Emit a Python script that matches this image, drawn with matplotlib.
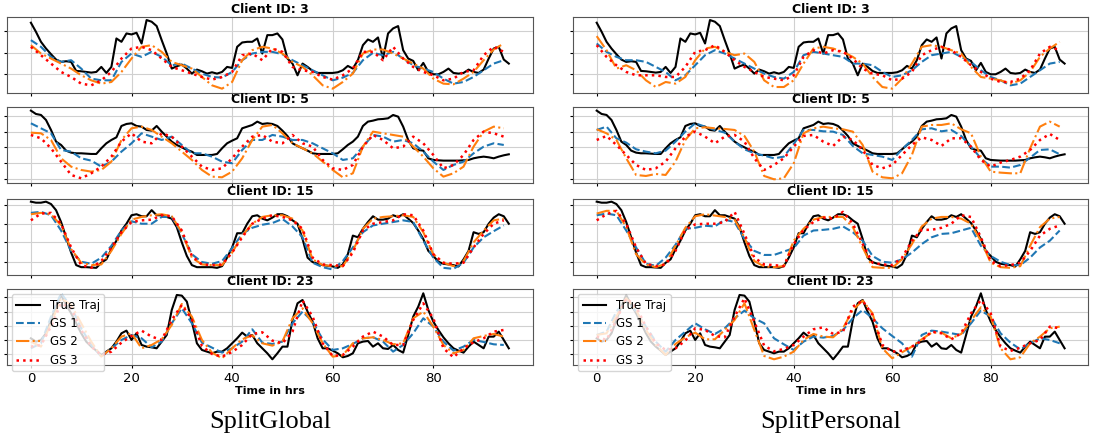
import numpy as np
import matplotlib
matplotlib.use("Agg")
import matplotlib.pyplot as plt

# ---- data (y in arbitrary load units) ----
clients = [3, 5, 15, 23]
panel_names = ["SplitGlobal", "SplitPersonal"]
series_labels = ["True Traj", "GS 1", "GS 2", "GS 3"]
hours = np.arange(96)            # true trajectory, hourly
pred_hours = np.arange(0, 96, 2)  # forecasts, read every 2 hrs
xtick_vals = [0, 20, 40, 60, 80]

true_c3 = [21.2, 18.5, 15.5, 13.5, 11.8, 10.2, 9.5, 9.7, 9.5, 6.8,
           6.7, 6.5, 6.3, 6.5, 8.0, 6.2, 8.0, 16.5, 15.5, 18.0,
           17.7, 18.2, 15.0, 22.0, 21.5, 20.2, 16.0, 12.0, 7.5, 8.2,
           8.7, 7.5, 6.0, 7.2, 6.7, 6.0, 6.4, 6.0, 6.5, 8.0,
           7.7, 14.0, 15.3, 15.5, 15.5, 16.5, 12.0, 17.5, 17.5, 18.0,
           16.2, 10.5, 9.0, 5.5, 9.0, 8.0, 6.8, 6.2, 6.2, 6.2,
           6.2, 6.4, 7.0, 8.3, 7.5, 10.0, 14.5, 16.2, 15.5, 16.8,
           10.5, 18.0, 19.5, 20.2, 13.0, 10.5, 9.8, 7.0, 9.2, 6.5,
           5.8, 5.8, 6.5, 7.5, 6.2, 6.0, 6.2, 7.2, 6.5, 6.2,
           7.2, 10.5, 13.5, 14.0, 10.2, 9.0]
true_c5 = [21.8, 20.8, 20.5, 19.0, 16.0, 12.5, 11.5, 9.8, 9.2, 9.0,
           9.0, 8.9, 8.8, 8.8, 10.5, 12.0, 13.0, 13.8, 17.2, 17.8,
           18.0, 17.2, 17.0, 16.0, 15.8, 17.2, 15.5, 14.0, 12.5, 11.5,
           10.8, 10.0, 9.5, 8.5, 8.5, 8.5, 8.5, 8.8, 10.5, 12.0,
           12.8, 13.5, 16.5, 17.0, 17.5, 18.5, 17.8, 18.0, 17.8, 17.2,
           15.8, 14.2, 12.0, 11.2, 10.5, 9.8, 9.0, 8.8, 8.8, 8.8,
           8.8, 9.0, 10.2, 11.5, 12.5, 14.0, 17.2, 18.5, 18.8, 19.2,
           19.3, 19.5, 20.5, 20.0, 17.0, 13.0, 10.5, 10.0, 9.8, 7.5,
           7.0, 6.9, 6.8, 6.8, 6.8, 6.8, 6.9, 7.0, 7.5, 7.8,
           8.0, 7.8, 7.5, 8.0, 8.4, 8.7]
true_c15 = [22.0, 21.7, 21.7, 22.0, 21.3, 19.5, 16.0, 11.5, 7.0, 3.3,
            2.7, 2.7, 2.6, 2.5, 4.0, 5.0, 8.0, 10.5, 13.5, 15.5,
            18.0, 18.3, 17.7, 17.7, 19.5, 18.0, 18.0, 17.5, 17.0, 14.5,
            10.0, 6.0, 3.3, 2.7, 2.7, 2.7, 2.7, 2.5, 3.0, 5.5,
            8.5, 12.7, 12.7, 15.5, 17.7, 18.0, 17.0, 16.5, 17.3, 18.3,
            18.3, 17.7, 16.5, 15.5, 11.0, 5.5, 4.2, 3.7, 3.3, 3.1,
            2.9, 2.5, 3.5, 6.5, 12.0, 11.5, 14.0, 16.0, 17.7, 16.7,
            16.7, 17.0, 18.0, 17.5, 18.3, 17.0, 15.7, 13.5, 11.0, 7.5,
            6.0, 4.3, 3.7, 3.5, 3.3, 2.9, 5.0, 7.5, 13.0, 12.5,
            13.0, 15.5, 17.3, 18.3, 17.7, 15.5]
true_c23 = [8.5, 7.5, 8.0, 10.0, 14.0, 18.0, 21.5, 18.5, 16.0, 13.0,
            10.0, 7.5, 6.0, 4.8, 3.5, 4.5, 5.5, 7.5, 10.0, 10.8,
            8.0, 10.0, 6.5, 6.0, 5.8, 5.5, 7.5, 9.5, 17.0, 21.5,
            21.3, 19.5, 13.5, 7.0, 5.0, 4.5, 4.0, 4.5, 4.5, 5.5,
            7.0, 8.5, 10.2, 9.0, 9.5, 7.0, 5.5, 4.0, 2.2, 4.0,
            6.0, 6.0, 14.0, 19.0, 20.0, 16.5, 13.5, 8.5, 5.5, 5.5,
            4.8, 4.0, 2.8, 3.2, 4.0, 7.0, 7.5, 7.7, 6.0, 7.0,
            5.5, 5.3, 6.5, 5.0, 4.2, 9.5, 15.0, 18.0, 22.0, 17.0,
            13.5, 11.0, 8.8, 7.0, 5.5, 4.8, 4.2, 6.0, 7.5, 6.5,
            5.5, 9.0, 9.0, 10.5, 8.0, 5.5]

# SplitGlobal forecasts
global_c3_gs1 = [16.0, 14.0, 11.0, 9.5, 10.0, 7.5, 4.5, 4.0, 4.0, 9.5, 12.0, 11.0, 12.5, 11.0, 8.5, 9.0,
                 7.5, 6.0, 5.0, 4.8, 6.5, 10.0, 12.0, 12.5, 12.5, 11.8, 10.0, 8.5, 7.0, 5.5, 4.0, 4.8,
                 6.2, 10.0, 12.2, 11.5, 12.5, 10.5, 8.5, 7.5, 6.5, 4.5, 3.0, 3.5, 5.0, 7.0, 9.0, 10.0]
global_c3_gs2 = [14.5, 12.0, 10.5, 9.0, 7.5, 5.5, 4.0, 3.0, 3.5, 6.5, 10.5, 14.0, 14.5, 12.5, 9.5, 8.5,
                 7.5, 5.0, 2.5, 1.5, 3.5, 10.0, 13.0, 14.0, 13.5, 12.0, 9.5, 8.0, 5.5, 2.5, 1.5, 3.5,
                 6.0, 12.0, 13.2, 13.2, 12.0, 10.5, 9.0, 7.5, 4.5, 3.0, 2.8, 4.5, 6.5, 10.0, 13.2, 15.0]
global_c3_gs3 = [14.0, 11.5, 9.0, 6.5, 5.0, 3.0, 2.5, 4.0, 6.5, 10.5, 13.5, 14.0, 13.0, 10.5, 8.0, 7.0,
                 6.0, 5.0, 4.2, 5.0, 6.5, 11.5, 12.0, 10.0, 13.5, 12.5, 8.0, 7.0, 6.5, 5.0, 4.2, 5.5,
                 7.5, 12.5, 12.5, 10.0, 14.0, 10.5, 8.0, 6.5, 5.5, 4.0, 4.5, 6.5, 7.0, 11.5, 14.0, 12.5]
global_c5_gs1 = [18.0, 16.5, 15.0, 10.0, 9.5, 7.5, 6.8, 5.0, 6.5, 9.5, 12.0, 15.0, 14.0, 13.0, 14.0, 11.5,
                 9.0, 9.0, 8.0, 6.5, 6.0, 10.0, 13.0, 13.0, 14.5, 14.0, 13.0, 13.0, 12.0, 10.5, 9.0, 7.0,
                 7.5, 11.0, 14.5, 14.0, 12.5, 13.0, 12.0, 9.5, 6.5, 4.0, 5.5, 6.5, 9.0, 11.0, 12.0, 11.5]
global_c5_gs2 = [15.2, 15.0, 13.0, 7.5, 5.0, 4.0, 3.5, 4.0, 6.5, 13.0, 16.5, 17.0, 16.0, 14.0, 12.0, 9.5,
                 7.0, 4.0, 2.0, 1.8, 3.5, 7.5, 13.0, 17.0, 17.5, 15.0, 12.0, 10.5, 9.0, 6.5, 4.0, 1.8,
                 3.0, 11.0, 15.5, 15.0, 14.5, 14.0, 11.0, 8.0, 4.5, 2.0, 3.0, 5.0, 11.0, 15.5, 17.0, 16.5]
global_c5_gs3 = [14.5, 13.5, 10.5, 6.5, 2.5, 1.5, 3.0, 5.0, 8.0, 12.5, 15.0, 12.5, 12.0, 15.0, 14.0, 11.0,
                 8.0, 5.0, 4.0, 4.5, 7.5, 11.0, 14.0, 14.5, 12.5, 12.0, 14.5, 12.0, 11.0, 7.0, 4.5, 4.0,
                 5.5, 11.0, 14.5, 13.0, 10.5, 11.0, 14.0, 12.0, 8.5, 4.5, 5.5, 8.5, 13.0, 15.5, 15.0, 14.0]
global_c15_gs1 = [18.7, 19.0, 18.0, 13.5, 7.5, 4.3, 3.7, 5.5, 9.0, 13.5, 16.2, 15.5, 15.5, 17.5, 17.5, 12.5,
                  6.5, 4.2, 3.7, 4.5, 8.3, 12.5, 14.3, 15.2, 15.7, 16.9, 14.7, 11.5, 4.0, 2.7, 2.0, 4.5,
                  8.5, 13.0, 15.0, 15.5, 16.0, 16.5, 16.0, 10.5, 5.5, 2.5, 2.2, 4.0, 8.5, 11.5, 13.3, 15.0]
global_c15_gs2 = [18.3, 18.7, 18.3, 15.0, 8.0, 4.0, 3.3, 3.5, 7.5, 12.5, 16.7, 17.5, 18.0, 18.3, 17.7, 13.0,
                  5.5, 3.5, 3.3, 3.3, 7.0, 12.0, 15.5, 17.5, 18.0, 18.0, 17.0, 13.5, 5.0, 3.3, 3.0, 3.0,
                  7.5, 14.0, 17.0, 17.5, 17.7, 18.0, 17.5, 13.0, 6.5, 4.0, 3.0, 4.5, 10.0, 13.5, 16.5, 17.0]
global_c15_gs3 = [16.5, 18.5, 18.7, 15.5, 8.5, 3.3, 2.5, 4.5, 8.5, 13.0, 16.0, 16.5, 16.7, 18.0, 17.7, 13.5,
                  6.0, 3.5, 3.3, 3.5, 7.0, 11.5, 15.5, 17.0, 18.0, 17.5, 16.5, 14.0, 5.5, 3.5, 3.3, 3.0,
                  7.0, 13.5, 15.5, 16.0, 16.5, 18.3, 18.0, 13.5, 6.5, 4.0, 3.7, 4.0, 8.5, 12.5, 15.5, 16.5]
global_c23_gs1 = [5.5, 7.0, 15.0, 22.0, 18.0, 11.5, 6.5, 3.0, 5.5, 8.0, 9.5, 8.5, 5.8, 7.5, 13.0, 17.5,
                  13.0, 7.2, 5.7, 4.2, 5.5, 7.5, 11.2, 7.2, 6.8, 7.5, 13.0, 16.5, 13.5, 8.2, 5.0, 5.5,
                  6.8, 8.5, 8.8, 7.5, 4.5, 6.5, 10.0, 14.5, 12.0, 7.5, 4.8, 6.0, 8.0, 7.4, 6.7, 6.5]
global_c23_gs2 = [7.5, 6.0, 13.0, 20.5, 18.5, 13.0, 7.5, 3.0, 5.5, 9.0, 10.0, 5.5, 6.5, 8.2, 12.5, 18.8,
                  15.0, 8.0, 4.2, 2.5, 5.5, 8.2, 9.4, 7.0, 6.3, 7.5, 14.5, 17.5, 13.0, 7.0, 3.0, 3.4,
                  7.0, 8.5, 8.8, 8.0, 6.7, 7.0, 14.5, 16.5, 12.0, 6.5, 4.0, 5.0, 8.5, 9.2, 9.8, 9.0]
global_c23_gs3 = [6.0, 6.5, 12.0, 19.0, 17.5, 11.0, 6.0, 3.5, 4.5, 7.2, 9.2, 10.8, 9.0, 8.0, 14.0, 18.5,
                  14.2, 6.2, 3.8, 3.0, 4.4, 6.5, 9.8, 10.3, 7.8, 7.0, 10.5, 19.8, 15.0, 7.0, 3.2, 3.5,
                  6.0, 9.0, 10.5, 9.0, 6.5, 6.5, 14.0, 19.0, 14.5, 5.5, 2.8, 5.5, 7.3, 8.5, 10.5, 11.0]

# SplitPersonal forecasts
personal_c3_gs1 = [15.0, 12.5, 11.0, 10.0, 10.0, 9.5, 8.0, 6.5, 4.0, 5.5, 8.5, 11.5, 13.0, 12.0, 10.5, 9.0,
                   7.5, 6.0, 5.0, 4.5, 6.5, 11.5, 12.5, 12.0, 11.5, 11.0, 9.0, 9.0, 8.5, 6.5, 5.0, 5.5,
                   7.0, 9.5, 11.5, 12.0, 12.5, 11.0, 9.5, 7.0, 5.0, 4.0, 2.5, 3.0, 5.0, 7.0, 9.0, 9.5]
personal_c3_gs2 = [17.2, 13.0, 7.5, 8.5, 7.0, 4.0, 2.0, 3.5, 3.0, 5.0, 10.0, 13.5, 14.0, 12.5, 11.5, 12.0,
                   9.5, 4.0, 2.0, 2.0, 4.0, 9.0, 13.5, 14.0, 13.5, 12.5, 11.0, 9.0, 5.0, 2.0, 1.5, 4.5,
                   9.0, 14.0, 14.5, 14.0, 13.0, 12.0, 8.0, 5.0, 4.5, 4.0, 3.0, 4.0, 6.5, 11.0, 13.5, 15.5]
personal_c3_gs3 = [14.5, 11.0, 8.5, 6.5, 5.5, 5.5, 5.5, 5.0, 5.0, 8.0, 12.5, 13.0, 14.5, 12.5, 10.0, 8.0,
                   6.5, 5.0, 4.5, 4.0, 5.5, 11.0, 13.0, 12.0, 13.0, 12.5, 10.5, 7.5, 6.0, 5.5, 4.0, 4.5,
                   6.5, 11.5, 13.0, 14.0, 13.0, 11.0, 8.5, 6.5, 4.5, 3.5, 3.5, 4.5, 7.0, 12.0, 14.0, 13.0]
personal_c5_gs1 = [16.0, 17.0, 13.5, 12.2, 10.2, 9.5, 9.0, 9.8, 12.5, 15.5, 18.0, 17.0, 16.0, 15.2, 12.5, 10.2,
                   9.0, 8.3, 7.5, 8.0, 11.8, 16.0, 16.0, 15.6, 15.5, 14.5, 11.2, 9.0, 8.5, 8.0, 7.0, 10.2,
                   13.0, 16.2, 16.5, 15.6, 16.0, 14.2, 11.0, 7.5, 5.0, 5.0, 4.7, 5.5, 7.7, 10.0, 10.2, 8.7]
personal_c5_gs2 = [16.2, 15.0, 13.0, 7.5, 2.5, 2.2, 2.8, 2.5, 6.5, 13.0, 16.5, 16.8, 16.5, 16.3, 16.0, 14.2,
                   9.5, 2.2, 1.2, 1.5, 6.0, 15.0, 16.5, 17.0, 16.5, 16.2, 15.5, 11.5, 3.5, 1.8, 1.5, 3.0,
                   8.5, 17.0, 17.5, 17.5, 18.0, 16.2, 15.0, 8.0, 3.5, 3.2, 3.0, 3.0, 10.5, 17.0, 18.5, 17.0]
personal_c5_gs3 = [13.0, 14.2, 11.5, 8.5, 5.5, 4.0, 4.5, 6.5, 10.5, 14.0, 15.5, 14.0, 12.0, 14.0, 14.5, 12.5,
                   7.5, 4.0, 5.5, 7.5, 11.0, 14.2, 14.5, 12.5, 11.2, 14.0, 13.0, 10.0, 5.5, 4.5, 5.5, 8.5,
                   11.5, 13.8, 13.0, 11.2, 13.5, 13.5, 11.0, 7.0, 5.0, 6.2, 7.0, 8.0, 10.0, 13.0, 14.8, 13.0]
personal_c15_gs1 = [18.0, 18.5, 18.0, 13.5, 8.5, 3.7, 3.1, 5.5, 9.3, 14.0, 14.3, 14.9, 14.7, 16.7, 16.0, 11.0,
                    7.5, 6.3, 6.3, 7.3, 8.3, 12.0, 13.5, 13.7, 14.0, 14.7, 13.0, 10.5, 6.0, 4.3, 4.0, 5.0,
                    7.0, 9.5, 11.5, 12.5, 12.7, 13.5, 14.3, 9.0, 6.0, 4.3, 3.3, 3.3, 5.5, 8.5, 10.5, 13.5]
personal_c15_gs2 = [18.5, 19.3, 19.3, 14.5, 6.5, 3.5, 2.7, 3.7, 9.0, 14.3, 17.7, 18.3, 17.9, 17.5, 16.7, 11.5,
                    4.5, 2.9, 2.7, 3.0, 10.5, 14.0, 16.7, 17.5, 17.5, 17.5, 14.5, 8.5, 2.7, 2.5, 2.5, 5.0,
                    9.5, 14.7, 17.0, 17.5, 17.5, 17.0, 15.5, 10.5, 4.0, 2.7, 2.5, 3.0, 9.0, 14.5, 17.0, 17.5]
personal_c15_gs3 = [16.5, 18.3, 19.3, 15.5, 8.5, 3.7, 3.0, 3.5, 7.5, 13.7, 15.3, 15.5, 15.5, 16.0, 19.0, 12.5,
                    5.5, 3.5, 3.3, 3.0, 9.5, 13.7, 16.0, 17.3, 17.0, 19.0, 15.5, 9.5, 4.0, 3.5, 3.3, 5.5,
                    10.5, 13.7, 13.7, 14.3, 15.5, 18.0, 17.5, 11.5, 4.5, 3.0, 3.3, 4.0, 7.5, 12.0, 14.0, 15.0]
personal_c23_gs1 = [9.5, 10.5, 16.5, 20.0, 16.5, 12.0, 7.5, 4.5, 8.0, 10.5, 13.0, 11.2, 9.8, 11.5, 14.5, 16.8,
                    14.5, 13.0, 8.5, 6.7, 5.0, 7.5, 9.0, 8.7, 9.2, 11.0, 14.5, 17.0, 14.5, 11.5, 9.2, 7.0,
                    3.0, 9.5, 10.8, 10.5, 10.0, 9.5, 13.0, 16.8, 15.0, 10.0, 7.2, 5.2, 7.0, 8.5, 8.0, 7.0]
personal_c23_gs2 = [9.5, 10.0, 15.0, 20.5, 17.0, 11.0, 6.5, 3.5, 6.8, 8.8, 10.2, 8.2, 8.2, 11.0, 14.0, 19.0,
                    11.0, 3.2, 2.2, 3.0, 4.5, 8.0, 9.8, 9.0, 8.8, 11.5, 17.0, 19.8, 16.0, 5.5, 2.5, 4.3,
                    6.0, 8.2, 10.2, 10.2, 8.5, 9.8, 13.8, 17.8, 15.0, 5.5, 2.2, 2.8, 7.0, 9.0, 11.5, 12.0]
personal_c23_gs3 = [9.0, 8.0, 14.0, 20.5, 18.0, 12.0, 7.0, 5.0, 5.5, 7.8, 11.5, 11.0, 9.2, 8.8, 15.0, 20.5,
                    13.5, 6.3, 4.6, 5.3, 6.5, 9.0, 11.2, 11.8, 9.8, 10.5, 18.0, 19.8, 15.5, 6.5, 4.5, 4.8,
                    6.0, 7.8, 10.5, 10.0, 8.2, 10.0, 16.0, 20.0, 16.0, 6.0, 4.7, 5.7, 7.0, 8.0, 12.0, 11.5]

true_traj = {3: true_c3, 5: true_c5, 15: true_c15, 23: true_c23}
forecasts = [
    {3: [global_c3_gs1, global_c3_gs2, global_c3_gs3],
     5: [global_c5_gs1, global_c5_gs2, global_c5_gs3],
     15: [global_c15_gs1, global_c15_gs2, global_c15_gs3],
     23: [global_c23_gs1, global_c23_gs2, global_c23_gs3]},
    {3: [personal_c3_gs1, personal_c3_gs2, personal_c3_gs3],
     5: [personal_c5_gs1, personal_c5_gs2, personal_c5_gs3],
     15: [personal_c15_gs1, personal_c15_gs2, personal_c15_gs3],
     23: [personal_c23_gs1, personal_c23_gs2, personal_c23_gs3]},
]

# axis settings per client row (no y labels in the original)
ylims = {3: (0.3, 23.0), 5: (0.0, 22.8), 15: (0.3, 22.7), 23: (0.4, 23.2)}
yticks = {3: [6.0, 12.3, 18.7], 5: [1.3, 6.0, 10.8, 15.5, 20.3],
          15: [4.3, 10.0, 15.5, 21.0], 23: [3.8, 8.0, 12.3, 16.5, 21.0]}

# ---- layout ----
W, H = 1094, 438
fig = plt.figure(figsize=(W / 100, H / 100), dpi=100)

row_tops = [16.7, 107.3, 199.3, 289.3]
row_h = 76
col_x = [(7, 532.7), (573.3, 1088)]

styles = [
    dict(color="black", ls="-", lw=1.5),
    dict(color="#1f77b4", ls="--", lw=1.5),
    dict(color="#ff7f0e", ls="-.", lw=1.5),
    dict(color="red", ls=":", lw=1.8),
]

for col in range(2):
    x0, x1 = col_x[col]
    for row, cid in enumerate(clients):
        top = row_tops[row]
        ax = fig.add_axes([x0 / W, 1 - (top + row_h) / H, (x1 - x0) / W, row_h / H])
        ax.plot(hours, true_traj[cid], label=series_labels[0], **styles[0])
        for k in range(3):
            ax.plot(pred_hours, forecasts[col][cid][k], label=series_labels[k + 1], **styles[k + 1])

        ax.set_xlim(-4.75, 99.75)
        ax.set_ylim(*ylims[cid])
        ax.set_xticks(xtick_vals)
        ax.set_yticks(yticks[cid])
        ax.grid(True, color="#d0d0d0", lw=0.8)
        ax.set_axisbelow(True)
        ax.tick_params(labelleft=False, labelsize=9.5, length=2.5, width=0.8, pad=2)
        ax.set_title(f"Client ID: {cid}", fontsize=9, fontweight="bold", pad=3)
        for sp in ax.spines.values():
            sp.set_linewidth(0.8)
            sp.set_color("#555555")

        if row == len(clients) - 1:
            ax.set_xlabel("Time in hrs", fontsize=8, fontweight="bold", labelpad=1)
            ax.legend(loc="upper left", fontsize=8.5, framealpha=0.8, labelspacing=0.45,
                      borderaxespad=0.4)
        else:
            ax.tick_params(labelbottom=False)

    fig.text((x0 + x1) / 2 / W, 1 - 428 / H, panel_names[col], ha="center", va="baseline",
             fontfamily="Liberation Serif", fontsize=19)

fig.savefig("out.png", dpi=100)
print("saved out.png")
